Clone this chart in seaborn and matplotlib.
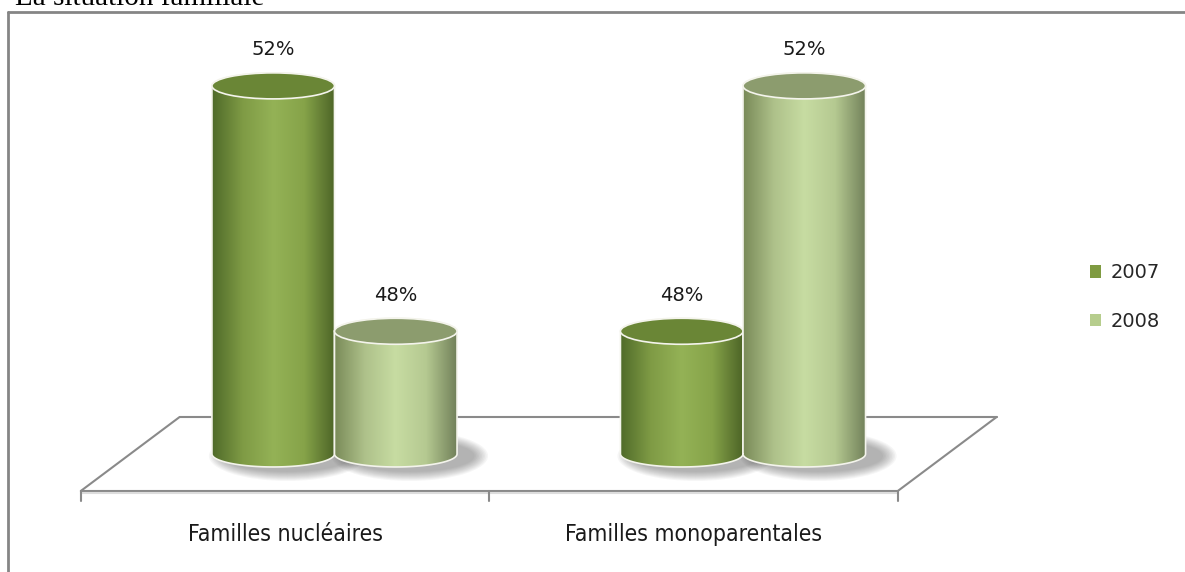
import matplotlib
matplotlib.use('Agg')
import matplotlib.pyplot as plt
import seaborn as sns
import numpy as np
import pandas as pd
from matplotlib.patches import Polygon, Ellipse, Patch
from matplotlib.lines import Line2D
from matplotlib.colors import LinearSegmentedColormap

# Données du graphique
categories = ['Familles nucléaires', 'Familles monoparentales']
annees = ['2007', '2008']
valeurs_2007 = [52, 48]
valeurs_2008 = [48, 52]
base_axe = 46  # départ de l'axe des valeurs

sns.set_theme(style='white')
plt.rcParams['font.family'] = ['DejaVu Sans']

df = pd.DataFrame({
    'categorie': categories * 2,
    'annee': [annees[0]] * 2 + [annees[1]] * 2,
    'valeur': valeurs_2007 + valeurs_2008,
})

couleurs_legende = {'2007': '#7f9b41', '2008': '#b6cd8d'}
degrades = {
    '2007': ['#4f6a29', '#7f9b45', '#94b256', '#86a349', '#4d6527'],
    '2008': ['#798a58', '#aec18a', '#c7dca2', '#b5c991', '#72815a'],
}
couleurs_dessus = {'2007': '#6a8636', '2008': '#8c9c6e'}

fig = plt.figure(figsize=(11.85, 5.72), dpi=100)
ax = fig.add_axes([0, 0, 1, 1])

sns.barplot(data=df, x='categorie', y='valeur', hue='annee', width=0.6,
            palette=couleurs_legende, ax=ax, legend=False)

ax.set_xlim(-0.8188, 2.0820)
ax.set_ylim(44.076, 53.40)
ax.axis('off')

# taille d'un pixel en unités de données
p0 = ax.transData.transform((0, 0))
p1 = ax.transData.transform((1, 1))
dx_px = 1.0 / (p1[0] - p0[0])
dy_px = 1.0 / (p1[1] - p0[1])

# plancher en perspective
n = len(categories)
dx = 0.121
dy = 37 * dy_px
fond = base_axe + dy
avant = base_axe - dy
gris = '#8a8a8a'
ax.plot([-0.5 + dx, n - 0.5 + dx], [fond, fond], color=gris, lw=1.5, zorder=1)
ax.plot([-0.5 - dx, -0.5 + dx], [avant, fond], color=gris, lw=1.5, zorder=1)
ax.plot([n - 0.5 - dx, n - 0.5 + dx], [avant, fond], color=gris, lw=1.5, zorder=1)
ax.plot([-0.5 - dx, n - 0.5 - dx], [avant, avant], color=gris, lw=1.5, zorder=1)
ax.plot([-0.5 - dx, n - 0.5 - dx], [avant - 2.5 * dy_px] * 2, color='#dddddd', lw=1.5, zorder=1)
for i in range(n + 1):
    xt = i - 0.5 - dx
    ax.plot([xt, xt], [avant, avant - 10 * dy_px], color=gris, lw=1.5, zorder=1)

for i, cat in enumerate(categories):
    ax.text(i - dx, base_axe - 81 * dy_px, cat, ha='center', va='center',
            fontsize=16.5, fontstretch='condensed', color='#1a1a1a')


def cylindre(x0, w, bas, haut, annee, z):
    a = w / 2
    cx = x0 + a
    b = 13 * dy_px
    t_bas = np.linspace(np.pi, 2 * np.pi, 80)
    t_haut = np.linspace(0, np.pi, 80)
    pts = [(x0, haut), (x0, bas)]
    pts += list(zip(cx + a * np.cos(t_bas), bas + b * np.sin(t_bas)))
    pts += [(x0 + w, bas), (x0 + w, haut)]
    pts += list(zip(cx + a * np.cos(t_haut), haut + b * np.sin(t_haut)))

    # ombre portée
    for k in range(10):
        ax.add_patch(Ellipse((cx + 14 * dx_px, bas - 2 * dy_px),
                             w + (34 - 3 * k) * dx_px, 2 * b + (24 - 2 * k) * dy_px,
                             facecolor='#505050', edgecolor='none', alpha=0.05, zorder=z - 1))

    corps = Polygon(pts, closed=True, facecolor='none', edgecolor='#f4f4ec', lw=1.2, zorder=z + 0.2)
    ax.add_patch(corps)
    cmap = LinearSegmentedColormap.from_list('c' + annee, degrades[annee])
    grad = np.linspace(0, 1, 256)[np.newaxis, :]
    im = ax.imshow(grad, extent=[x0, x0 + w, bas - b, haut + b], aspect='auto',
                   cmap=cmap, zorder=z, interpolation='bilinear')
    im.set_clip_path(corps)
    ax.add_patch(Ellipse((cx, haut), w, 2 * b, facecolor=couleurs_dessus[annee],
                         edgecolor='#f4f4ec', lw=1.2, zorder=z + 0.3))


# cylindres construits à partir des barres de seaborn
for j, (cont, annee) in enumerate(zip(ax.containers, annees)):
    for bar in cont:
        x0, w, h = bar.get_x(), bar.get_width(), bar.get_height()
        bar.set_visible(False)
        cylindre(x0, w, base_axe, h, annee, 3 + j)
        ax.annotate(f'{h:.0f}%', (x0 + w / 2, h), xytext=(0, 36), textcoords='offset pixels',
                    ha='center', va='center', fontsize=14, color='#1a1a1a')

ax.set_xlim(-0.8188, 2.0820)
ax.set_ylim(44.076, 53.40)

# légende
poignees = [Patch(facecolor=couleurs_legende[a], edgecolor='none') for a in annees]
fig.legend(poignees, annees, loc='center left', bbox_to_anchor=(1072 / 1185, 1 - 297 / 572),
           frameon=False, fontsize=14, handlelength=0.6, handleheight=0.6,
           handletextpad=0.5, labelspacing=1.5)

# cadre et titre
fig.add_artist(Line2D([8 / 1185, 8 / 1185], [0, 1 - 12 / 572], color='#858585', lw=2))
fig.add_artist(Line2D([8 / 1185, 1], [1 - 12 / 572, 1 - 12 / 572], color='#858585', lw=2))
fig.text(15 / 1185, 1 - 5 / 572, 'La situation familiale', family='Liberation Serif',
         fontsize=21, va='baseline', color='black')

fig.savefig('out.png', dpi=100)
